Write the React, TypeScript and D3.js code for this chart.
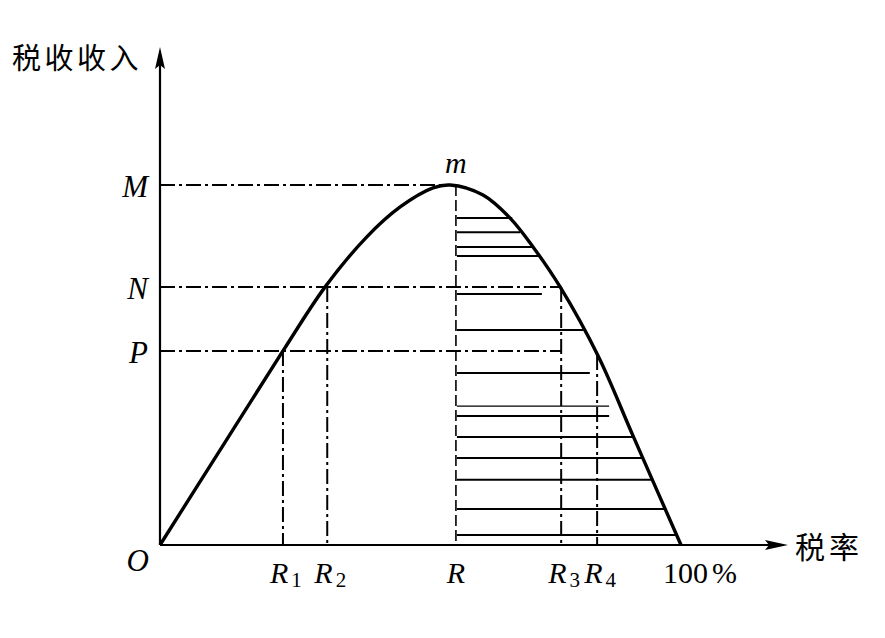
import React from "react";
import * as d3 from "d3";

// Laffer curve samples: [tax rate %, revenue (M = 100)]
const curveRates = [0, 12.5, 23.6, 31.7, 39.7, 46.1, 52.4, 55.7, 62.0, 67.2, 71.6, 76.8, 84.1, 90.8, 100];
const curveRevenue = [0, 28.6, 53.9, 71.7, 85.6, 93.9, 99.2, 100, 97.2, 90.8, 82.8, 71.7, 52.5, 30.3, 0];

// reference levels
const levelNames = ["M", "N", "P"];
const levelValues = [100, 71.7, 53.9];
const levelEnds = [56.8, 77.0, 77.0];

// rate markers
const rateNames = ["R1", "R2", "R", "R3", "R4"];
const rateValues = [23.6, 32.1, 56.8, 77.0, 83.9];
const rateTops = [53.9, 71.7, 100, 71.7, 52.8];

// hatching inside the falling part
const hatchLevels = [90.8, 86.9, 82.8, 80.3, 69.7, 59.7, 47.8, 38.6, 35.8, 30.0, 24.2, 18.1, 10.0, 2.8];
const hatchEnds = [67.6, 69.1, 71.6, 72.6, 73.3, 81.2, 82.5, 86.2, 86.2, 90.8, 92.7, 94.4, 96.9, 99.2];

const yAxisLabel = "税收收入";
const xAxisLabel = "税率";

const W = 885;
const H = 638;
const serif = "'Liberation Serif', 'Times New Roman', serif";
const cjk = "'Noto Sans CJK SC', sans-serif";
const dashDot = "15,4,3,4";

export default function App() {
  const x = d3.scaleLinear().domain([0, 100]).range([160, 681]);
  const y = d3.scaleLinear().domain([0, 100]).range([545, 185]);
  const x0 = x(0);
  const y0 = y(0);
  const axisXEnd = 788;
  const axisYTop = 47;

  const pts: [number, number][] = curveRates.map((r, i) => [r, curveRevenue[i]]);
  const line = d3
    .line<[number, number]>()
    .x((d) => x(d[0]))
    .y((d) => y(d[1]))
    .curve(d3.curveCatmullRom.alpha(0.5));

  const rIdx = rateNames.indexOf("R");

  return (
    <svg width={W} height={H} style={{ position: "absolute", left: 0, top: 0, background: "#fff" }}>
      <rect x={0} y={0} width={W} height={H} fill="#fff" />

      {/* hatching */}
      {hatchLevels.map((h, i) => (
        <line
          key={"h" + i}
          x1={x(rateValues[rIdx]) + 1}
          x2={x(hatchEnds[i])}
          y1={y(h)}
          y2={y(h)}
          stroke="#000"
          strokeWidth={i === 7 ? 1.3 : 2}
        />
      ))}

      {/* horizontal reference lines */}
      {levelValues.map((v, i) => (
        <line
          key={"l" + i}
          x1={x0}
          x2={x(levelEnds[i])}
          y1={y(v)}
          y2={y(v)}
          stroke="#000"
          strokeWidth={2}
          strokeDasharray={dashDot}
        />
      ))}

      {/* vertical reference lines */}
      {rateValues.map((r, i) => (
        <line
          key={"v" + i}
          x1={x(r)}
          x2={x(r)}
          y1={y(rateTops[i])}
          y2={y0}
          stroke="#000"
          strokeWidth={i === rIdx ? 1.6 : 2}
          strokeDasharray={i === rIdx ? "11,4" : dashDot}
        />
      ))}

      {/* axes */}
      <line x1={x0} x2={axisXEnd - 18} y1={y0} y2={y0} stroke="#000" strokeWidth={2.2} />
      <line x1={x0} x2={x0} y1={y0} y2={axisYTop + 18} stroke="#000" strokeWidth={2.2} />
      <path
        d={`M${axisXEnd},${y0} L${axisXEnd - 23},${y0 - 5} L${axisXEnd - 19},${y0} L${axisXEnd - 23},${y0 + 5} Z`}
        fill="#000"
      />
      <path
        d={`M${x0},${axisYTop} L${x0 - 5},${axisYTop + 22} L${x0},${axisYTop + 18} L${x0 + 5},${axisYTop + 22} Z`}
        fill="#000"
      />

      {/* curve */}
      <path d={line(pts) || ""} fill="none" stroke="#000" strokeWidth={3.4} strokeLinejoin="round" />

      {/* level labels */}
      {levelNames.map((n, i) => (
        <text
          key={"ln" + i}
          x={x0 - 12}
          y={y(levelValues[i]) + 12}
          textAnchor="end"
          fontFamily={serif}
          fontStyle="italic"
          fontSize={31}
        >
          {n}
        </text>
      ))}

      {/* rate labels */}
      {rateNames.map((n, i) => (
        <text
          key={"rn" + i}
          x={x(rateValues[i]) + (n.length > 1 ? 3 : 0)}
          y={583}
          textAnchor="middle"
          fontFamily={serif}
          fontSize={30}
        >
          <tspan fontStyle="italic">{n[0]}</tspan>
          {n.length > 1 && (
            <tspan fontSize={21} dx={3} dy={4}>
              {n.slice(1)}
            </tspan>
          )}
        </text>
      ))}

      <text x={x0 - 11} y={571} textAnchor="end" fontFamily={serif} fontStyle="italic" fontSize={31}>
        O
      </text>
      <text x={x(rateValues[rIdx])} y={173} textAnchor="middle" fontFamily={serif} fontStyle="italic" fontSize={30}>
        m
      </text>
      <text x={x(100) - 18} y={583} fontFamily={serif} fontSize={30}>
        100
        <tspan dx={4}>%</tspan>
      </text>

      {/* axis titles */}
      <text x={12} y={69} fontFamily={cjk} fontSize={29} letterSpacing={3.5}>
        {yAxisLabel}
      </text>
      <text x={795} y={558} fontFamily={cjk} fontSize={30} letterSpacing={4}>
        {xAxisLabel}
      </text>
    </svg>
  );
}
